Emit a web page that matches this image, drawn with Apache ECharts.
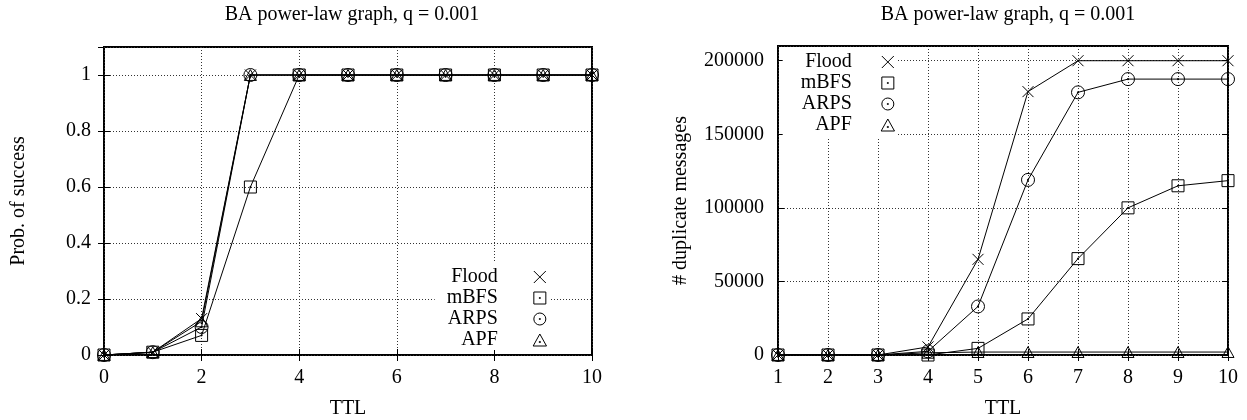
<!DOCTYPE html>
<html>
<head>
<meta charset="utf-8">
<script src="https://cdn.jsdelivr.net/npm/echarts@6/dist/echarts.min.js"></script>
<style>
  html, body { margin: 0; padding: 0; background: #fff; }
  #chart { width: 1247px; height: 420px; }
</style>
</head>
<body>
<div id="chart"></div>
<script>
// Left panel: probability of success vs TTL
const ttlLeft = [0, 1, 2, 3, 4, 5, 6, 7, 8, 9, 10];
const probFlood = [0, 0.01, 0.13, 1, 1, 1, 1, 1, 1, 1, 1];
const probMBFS  = [0, 0.01, 0.07, 0.6, 1, 1, 1, 1, 1, 1, 1];
const probARPS  = [0, 0.01, 0.10, 1, 1, 1, 1, 1, 1, 1, 1];
const probAPF   = [0, 0.01, 0.12, 1, 1, 1, 1, 1, 1, 1, 1];
const probTicks = [0, 0.2, 0.4, 0.6, 0.8, 1];

// Right panel: duplicate messages vs TTL
const ttlRight = [1, 2, 3, 4, 5, 6, 7, 8, 9, 10];
const dupFlood = [0, 0, 0, 5500, 65000, 179000, 200000, 200000, 200000, 200000];
const dupMBFS  = [0, 0, 0, 0, 4500, 24500, 65500, 100000, 115000, 118500];
const dupARPS  = [0, 0, 0, 2500, 33000, 119000, 178500, 187500, 187500, 187500];
const dupAPF   = [0, 0, 0, 1500, 2000, 2000, 2000, 2000, 2000, 2000];
const dupTicks = [0, 50000, 100000, 150000, 200000];

const seriesNames = ['Flood', 'mBFS', 'ARPS', 'APF'];
const titleText = 'BA power-law graph, q = 0.001';

const FONT = 'Liberation Serif';
const SYMBOLS = {
  Flood: 'path://M0,0L10,10M0,10L10,0',
  mBFS:  'path://M0,0H10V10H0Z M4.6,4.6H5.4V5.4H4.6Z',
  ARPS:  'path://M5,0A5,5 0 1,1 5,10A5,5 0 1,1 5,0Z M4.6,4.6H5.4V5.4H4.6Z',
  APF:   'path://M5,0L10,9H0Z M4.6,5.6H5.4V6.4H4.6Z'
};
const SIZES = { Flood: 11, mBFS: 12, ARPS: 13, APF: 12 };

const markStyle = { color: 'rgba(0,0,0,0)', borderColor: '#000', borderWidth: 1 };
const textBase = { fontFamily: FONT, fontSize: 20, color: '#000' };
const gridLine = { show: true, lineStyle: { color: '#333', width: 1, type: [1, 2] } };
const tickStyle = { show: true, inside: true, length: 6, lineStyle: { color: '#000', width: 1 } };

function onTick(ticks, v) {
  return ticks.some(t => Math.abs(t - v) < 1e-9);
}

function makeSeries(name, xs, ys, panel) {
  return {
    type: 'line',
    name: name,
    xAxisIndex: panel * 2,
    yAxisIndex: panel * 2,
    data: xs.map((x, i) => [x, ys[i]]),
    symbol: SYMBOLS[name],
    symbolSize: SIZES[name],
    symbolKeepAspect: true,
    showAllSymbol: true,
    itemStyle: markStyle,
    lineStyle: { color: '#000', width: 1 },
    emphasis: { disabled: true },
    z: 3
  };
}

function mainX(gridIndex, min, max, interval) {
  return {
    type: 'value', gridIndex, min, max, interval, position: 'bottom',
    name: 'TTL', nameLocation: 'middle', nameGap: 44, nameTextStyle: textBase,
    axisLine: { show: false },
    axisTick: tickStyle,
    axisLabel: Object.assign({ margin: 13, formatter: v => String(v) }, textBase),
    splitLine: gridLine
  };
}
function mirrorX(gridIndex, min, max, interval) {
  return {
    type: 'value', gridIndex, min, max, interval, position: 'top',
    axisLine: { show: false }, axisTick: tickStyle,
    axisLabel: { show: false }, splitLine: { show: false }
  };
}
function mainY(gridIndex, min, max, interval, name, nameGap, margin, ticks, digits) {
  return {
    type: 'value', gridIndex, min, max, interval, position: 'left',
    name, nameLocation: 'middle', nameRotate: 90, nameGap, nameTextStyle: textBase,
    axisLine: { show: false },
    axisTick: tickStyle,
    axisLabel: Object.assign({
      margin, showMaxLabel: false,
      formatter: v => (onTick(ticks, v) ? String(+v.toFixed(digits)) : '')
    }, textBase),
    splitLine: gridLine
  };
}
function mirrorY(gridIndex, min, max, interval) {
  return {
    type: 'value', gridIndex, min, max, interval, position: 'right',
    axisLine: { show: false }, axisTick: tickStyle,
    axisLabel: { show: false }, splitLine: { show: false }
  };
}

const chart = echarts.init(document.getElementById('chart'), null, { renderer: 'canvas' });

const gridCommon = {
  show: true, borderColor: '#000', borderWidth: 2, backgroundColor: 'transparent',
  containLabel: false, outerBoundsMode: 'none'
};

chart.setOption({
  animation: false,
  backgroundColor: '#fff',
  textStyle: { fontFamily: FONT },
  title: [
    { text: titleText, left: 347, top: 0, textAlign: 'center', padding: 5,
      textStyle: Object.assign({ fontWeight: 'normal' }, textBase) },
    { text: titleText, left: 1003, top: 0, textAlign: 'center', padding: 5,
      textStyle: Object.assign({ fontWeight: 'normal' }, textBase) }
  ],
  grid: [
    Object.assign({ left: 104, top: 47, width: 488, height: 308 }, gridCommon),
    Object.assign({ left: 778, top: 46, width: 450, height: 309 }, gridCommon)
  ],
  xAxis: [
    mainX(0, 0, 10, 2), mirrorX(0, 0, 10, 2),
    mainX(1, 1, 10, 1), mirrorX(1, 1, 10, 1)
  ],
  yAxis: [
    mainY(0, 0, 1.1, 0.2, 'Prob. of success', 75, 13, probTicks, 1),
    mirrorY(0, 0, 1.1, 0.2),
    mainY(1, 0, 210000, 50000, '# duplicate messages', 87, 14, dupTicks, 0),
    mirrorY(1, 0, 210000, 50000)
  ],
  legend: [
    {
      orient: 'vertical', align: 'right', right: 698, top: 262,
      padding: [5, 2, 0, 12], backgroundColor: '#fff',
      itemWidth: 74, itemHeight: 12, itemGap: 1, symbolKeepAspect: true,
      selectedMode: false,
      textStyle: textBase,
      itemStyle: markStyle,
      data: seriesNames.map(n => ({ name: n, icon: SYMBOLS[n] }))
    },
    {
      orient: 'vertical', align: 'right', right: 350, top: 47,
      padding: [5, 2, 3, 18], backgroundColor: '#fff',
      itemWidth: 62, itemHeight: 12, itemGap: 1, symbolKeepAspect: true,
      selectedMode: false,
      textStyle: textBase,
      itemStyle: markStyle,
      data: seriesNames.map(n => ({ name: n, icon: SYMBOLS[n] }))
    }
  ],
  series: [
    makeSeries('Flood', ttlLeft, probFlood, 0),
    makeSeries('mBFS', ttlLeft, probMBFS, 0),
    makeSeries('ARPS', ttlLeft, probARPS, 0),
    makeSeries('APF', ttlLeft, probAPF, 0),
    makeSeries('Flood', ttlRight, dupFlood, 1),
    makeSeries('mBFS', ttlRight, dupMBFS, 1),
    makeSeries('ARPS', ttlRight, dupARPS, 1),
    makeSeries('APF', ttlRight, dupAPF, 1)
  ]
});
</script>
</body>
</html>
